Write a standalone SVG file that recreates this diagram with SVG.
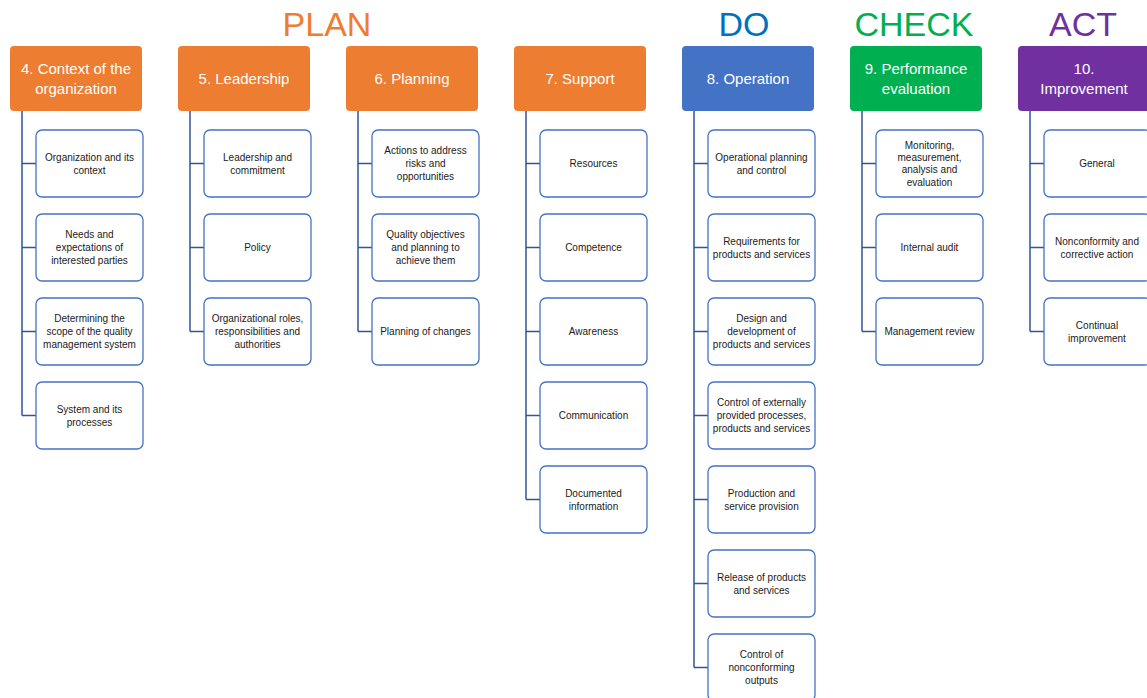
<svg xmlns="http://www.w3.org/2000/svg" width="1147" height="698" viewBox="0 0 1147 698">
<style>
.t{font-family:"Liberation Sans","DejaVu Sans",sans-serif;text-anchor:middle;dominant-baseline:central}
.ttl{font-size:34px}
.hd{fill:#fff;font-size:15px}
.ch{fill:#1a1a1a;font-size:10px}
.hbox{stroke:none}
.cbox{fill:#fff;stroke:#4472C4;stroke-width:1.3}
.conn{fill:none;stroke:#2F5597;stroke-width:1.5}
.or{fill:#ED7D31}.bl{fill:#4472C4}.gr{fill:#00B050}.pu{fill:#7030A0}
</style>
<rect width="1147" height="698" fill="#fff"/>
<g id="titles">
<text class="t ttl" x="327" y="24" fill="#ED7D31">PLAN</text>
<text class="t ttl" x="744" y="24" fill="#0070C0">DO</text>
<text class="t ttl" x="914" y="24" fill="#00B050">CHECK</text>
<text class="t ttl" x="1083" y="24" fill="#7030A0">ACT</text>
</g>
<g id="connectors">
<path class="conn" d="M22 111V415.5M22 163.5H36M22 247.5H36M22 331.5H36M22 415.5H36"/>
<path class="conn" d="M190 111V331.5M190 163.5H204M190 247.5H204M190 331.5H204"/>
<path class="conn" d="M358 111V331.5M358 163.5H372M358 247.5H372M358 331.5H372"/>
<path class="conn" d="M526 111V499.5M526 163.5H540M526 247.5H540M526 331.5H540M526 415.5H540M526 499.5H540"/>
<path class="conn" d="M694 111V667.5M694 163.5H708M694 247.5H708M694 331.5H708M694 415.5H708M694 499.5H708M694 583.5H708M694 667.5H708"/>
<path class="conn" d="M862 111V331.5M862 163.5H876M862 247.5H876M862 331.5H876"/>
<path class="conn" d="M1030 111V331.5M1030 163.5H1044M1030 247.5H1044M1030 331.5H1044"/>
</g>
<g id="h4"><rect class="hbox or" x="10" y="46" width="132" height="65" rx="4"/><text class="t hd" x="76" y="68">4. Context of the</text><text class="t hd" x="76" y="88">organization</text></g>
<g id="c4_1"><rect class="cbox" x="36" y="130" width="107" height="67" rx="6"/><text class="t ch" x="89.5" y="157">Organization and its</text><text class="t ch" x="89.5" y="170">context</text></g>
<g id="c4_2"><rect class="cbox" x="36" y="214" width="107" height="67" rx="6"/><text class="t ch" x="89.5" y="234.5">Needs and</text><text class="t ch" x="89.5" y="247.5">expectations of</text><text class="t ch" x="89.5" y="260.5">interested parties</text></g>
<g id="c4_3"><rect class="cbox" x="36" y="298" width="107" height="67" rx="6"/><text class="t ch" x="89.5" y="318.5">Determining the</text><text class="t ch" x="89.5" y="331.5">scope of the quality</text><text class="t ch" x="89.5" y="344.5">management system</text></g>
<g id="c4_4"><rect class="cbox" x="36" y="382" width="107" height="67" rx="6"/><text class="t ch" x="89.5" y="409">System and its</text><text class="t ch" x="89.5" y="422">processes</text></g>

<g id="h5"><rect class="hbox or" x="178" y="46" width="132" height="65" rx="4"/><text class="t hd" x="244" y="78">5. Leadership</text></g>
<g id="c5_1"><rect class="cbox" x="204" y="130" width="107" height="67" rx="6"/><text class="t ch" x="257.5" y="157">Leadership and</text><text class="t ch" x="257.5" y="170">commitment</text></g>
<g id="c5_2"><rect class="cbox" x="204" y="214" width="107" height="67" rx="6"/><text class="t ch" x="257.5" y="247.5">Policy</text></g>
<g id="c5_3"><rect class="cbox" x="204" y="298" width="107" height="67" rx="6"/><text class="t ch" x="257.5" y="318.5">Organizational roles,</text><text class="t ch" x="257.5" y="331.5">responsibilities and</text><text class="t ch" x="257.5" y="344.5">authorities</text></g>

<g id="h6"><rect class="hbox or" x="346" y="46" width="132" height="65" rx="4"/><text class="t hd" x="412" y="78">6. Planning</text></g>
<g id="c6_1"><rect class="cbox" x="372" y="130" width="107" height="67" rx="6"/><text class="t ch" x="425.5" y="150.5">Actions to address</text><text class="t ch" x="425.5" y="163.5">risks and</text><text class="t ch" x="425.5" y="176.5">opportunities</text></g>
<g id="c6_2"><rect class="cbox" x="372" y="214" width="107" height="67" rx="6"/><text class="t ch" x="425.5" y="234.5">Quality objectives</text><text class="t ch" x="425.5" y="247.5">and planning to</text><text class="t ch" x="425.5" y="260.5">achieve them</text></g>
<g id="c6_3"><rect class="cbox" x="372" y="298" width="107" height="67" rx="6"/><text class="t ch" x="425.5" y="331.5">Planning of changes</text></g>

<g id="h7"><rect class="hbox or" x="514" y="46" width="132" height="65" rx="4"/><text class="t hd" x="580" y="78">7. Support</text></g>
<g id="c7_1"><rect class="cbox" x="540" y="130" width="107" height="67" rx="6"/><text class="t ch" x="593.5" y="163.5">Resources</text></g>
<g id="c7_2"><rect class="cbox" x="540" y="214" width="107" height="67" rx="6"/><text class="t ch" x="593.5" y="247.5">Competence</text></g>
<g id="c7_3"><rect class="cbox" x="540" y="298" width="107" height="67" rx="6"/><text class="t ch" x="593.5" y="331.5">Awareness</text></g>
<g id="c7_4"><rect class="cbox" x="540" y="382" width="107" height="67" rx="6"/><text class="t ch" x="593.5" y="415.5">Communication</text></g>
<g id="c7_5"><rect class="cbox" x="540" y="466" width="107" height="67" rx="6"/><text class="t ch" x="593.5" y="493">Documented</text><text class="t ch" x="593.5" y="506">information</text></g>

<g id="h8"><rect class="hbox bl" x="682" y="46" width="132" height="65" rx="4"/><text class="t hd" x="748" y="78">8. Operation</text></g>
<g id="c8_1"><rect class="cbox" x="708" y="130" width="107" height="67" rx="6"/><text class="t ch" x="761.5" y="157">Operational planning</text><text class="t ch" x="761.5" y="170">and control</text></g>
<g id="c8_2"><rect class="cbox" x="708" y="214" width="107" height="67" rx="6"/><text class="t ch" x="761.5" y="241">Requirements for</text><text class="t ch" x="761.5" y="254">products and services</text></g>
<g id="c8_3"><rect class="cbox" x="708" y="298" width="107" height="67" rx="6"/><text class="t ch" x="761.5" y="318.5">Design and</text><text class="t ch" x="761.5" y="331.5">development of</text><text class="t ch" x="761.5" y="344.5">products and services</text></g>
<g id="c8_4"><rect class="cbox" x="708" y="382" width="107" height="67" rx="6"/><text class="t ch" x="761.5" y="402.5">Control of externally</text><text class="t ch" x="761.5" y="415.5">provided processes,</text><text class="t ch" x="761.5" y="428.5">products and services</text></g>
<g id="c8_5"><rect class="cbox" x="708" y="466" width="107" height="67" rx="6"/><text class="t ch" x="761.5" y="493">Production and</text><text class="t ch" x="761.5" y="506">service provision</text></g>
<g id="c8_6"><rect class="cbox" x="708" y="550" width="107" height="67" rx="6"/><text class="t ch" x="761.5" y="577">Release of products</text><text class="t ch" x="761.5" y="590">and services</text></g>
<g id="c8_7"><rect class="cbox" x="708" y="634" width="107" height="67" rx="6"/><text class="t ch" x="761.5" y="654.5">Control of</text><text class="t ch" x="761.5" y="667.5">nonconforming</text><text class="t ch" x="761.5" y="680.5">outputs</text></g>

<g id="h9"><rect class="hbox gr" x="850" y="46" width="132" height="65" rx="4"/><text class="t hd" x="916" y="68">9. Performance</text><text class="t hd" x="916" y="88">evaluation</text></g>
<g id="c9_1"><rect class="cbox" x="876" y="130" width="107" height="67" rx="6"/><text class="t ch" x="929.5" y="145">Monitoring,</text><text class="t ch" x="929.5" y="157.3">measurement,</text><text class="t ch" x="929.5" y="169.6">analysis and</text><text class="t ch" x="929.5" y="182">evaluation</text></g>
<g id="c9_2"><rect class="cbox" x="876" y="214" width="107" height="67" rx="6"/><text class="t ch" x="929.5" y="247.5">Internal audit</text></g>
<g id="c9_3"><rect class="cbox" x="876" y="298" width="107" height="67" rx="6"/><text class="t ch" x="929.5" y="331.5">Management review</text></g>

<g id="h10"><rect class="hbox pu" x="1018" y="46" width="132" height="65" rx="4"/><text class="t hd" x="1084" y="68">10.</text><text class="t hd" x="1084" y="88">Improvement</text></g>
<g id="c10_1"><rect class="cbox" x="1044" y="130" width="107" height="67" rx="6"/><text class="t ch" x="1097" y="163.5">General</text></g>
<g id="c10_2"><rect class="cbox" x="1044" y="214" width="107" height="67" rx="6"/><text class="t ch" x="1097" y="241">Nonconformity and</text><text class="t ch" x="1097" y="254">corrective action</text></g>
<g id="c10_3"><rect class="cbox" x="1044" y="298" width="107" height="67" rx="6"/><text class="t ch" x="1097" y="325">Continual</text><text class="t ch" x="1097" y="338">improvement</text></g>
</svg>
